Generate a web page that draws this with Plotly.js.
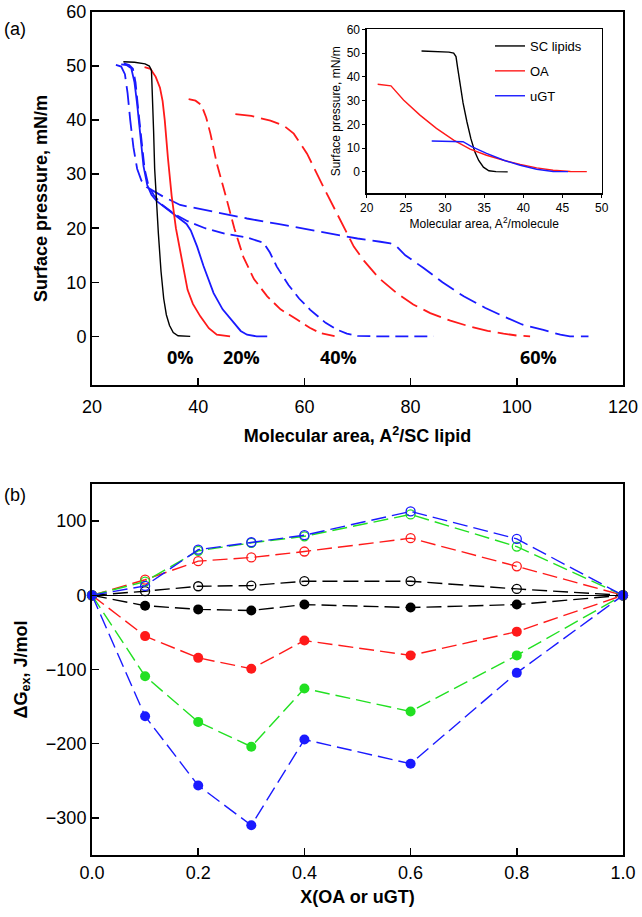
<!DOCTYPE html>
<html>
<head>
<meta charset="utf-8">
<script src="https://cdn.plot.ly/plotly-3.0.1.min.js"></script>
<style>html,body{margin:0;padding:0;background:#fff;}#chart{width:642px;height:917px;}</style>
</head>
<body>
<div id="chart"></div>
<script>
// ---------- Panel (a): isotherms of mixtures ----------
const sc0_x = [25.9, 28, 30, 30.8, 31.2, 31.4, 31.6, 31.8, 32.1, 32.5, 33.0, 33.5, 34.0, 34.6, 35.3, 36.2, 38.5];
const sc0_y = [50.8, 50.7, 50.4, 50.0, 49.2, 45, 38, 31, 25, 19, 12, 7, 4, 2, 0.7, 0.1, 0];

const oa20_x = [29.9, 31, 32, 32.8, 33.3, 33.7, 34.3, 35.0, 35.8, 36.6, 37.3, 38.0, 39.0, 40.4, 42.0, 43.5, 46.0];
const oa20_y = [49.8, 49.5, 48, 46, 43.5, 40, 33, 26, 20, 16, 12, 8.6, 6, 3.7, 1.5, 0.3, 0];

const ugt20_x = [25.5, 26.5, 27.4, 28.0, 28.5, 29.1, 29.7, 30.4, 31.2, 32.2, 34.0, 36.0, 37.8, 38.6, 39.8, 41.0, 42.9, 44.6, 46.7, 48.0, 49.2, 51.0, 53.0];
const ugt20_y = [50.3, 50.2, 49.6, 47, 43, 37, 31.5, 28, 26.2, 25, 23.6, 22.1, 20.8, 19.6, 16.6, 13, 8.0, 5, 2.5, 1.0, 0.3, 0, 0];

const oa40_x = [38.2, 39.5, 40.6, 41.5, 42.3, 43.5, 45.4, 46.8, 48.5, 50.5, 53.0, 55.5, 58.6, 61.0, 63.0, 66.0];
const oa40_y = [43.9, 43.6, 42.8, 40.5, 37.5, 32, 25.2, 20, 14.7, 10.6, 7.4, 5, 3.1, 1.6, 0.6, 0];

const ugt40_x = [26.0, 27.0, 27.7, 28.2, 28.7, 29.3, 29.9, 30.6, 31.6, 33.0, 35.4, 38.0, 41.3, 45.0, 49.2, 52.3, 53.5, 54.8, 57.0, 59.0, 61.1, 64.0, 66.0, 68.0, 70.0, 74.0, 84.3];
const ugt40_y = [50.5, 50.2, 49.5, 47, 42, 36, 31, 28, 26.2, 24.5, 22.7, 21.3, 20, 19, 18.3, 17.3, 15.5, 12.9, 9.5, 7, 4.9, 2.5, 1.3, 0.5, 0.1, 0, 0];

const oa60_x = [47.0, 50.0, 53.6, 56.1, 58.0, 60.5, 63.6, 66.8, 69.3, 71.2, 74.0, 77.4, 80.5, 83.7, 87.5, 91.2, 94.5, 97.5, 100.0, 102.5];
const oa60_y = [41.1, 40.8, 39.9, 39.0, 37.5, 33.8, 27.6, 21.5, 16.6, 14.0, 10.8, 8.0, 5.9, 4.3, 2.9, 1.8, 1.0, 0.5, 0.15, 0];

const ugt60_x = [24.5, 25.5, 26.2, 26.7, 27.2, 27.8, 28.5, 29.3, 30.3, 31.8, 33.5, 36.6, 42.0, 49.2, 55.0, 60.0, 65.0, 70.0, 74.3, 76.2, 77.4, 79.0, 82.5, 86.0, 90.0, 94.0, 97.5, 101.0, 105.0, 108.2, 110.0, 113.5];
const ugt60_y = [50.2, 49.9, 48.5, 45, 40, 35, 31, 28.8, 27.6, 26.7, 25.8, 24.3, 23.2, 21.8, 20.8, 19.9, 19.0, 18.1, 17.5, 17.2, 16.6, 15.0, 12.6, 10.0, 7.4, 5.3, 3.7, 2.2, 1.2, 0.3, 0, 0];

const pctLabels = ["0%", "20%", "40%", "60%"];
const pctX = [36.6, 48.2, 66.5, 104];
const pctY = -3.8;

// ---------- Inset: pure components ----------
const insSC_x = [27.0, 29.0, 30.5, 31.1, 31.4, 31.6, 31.9, 32.3, 32.8, 33.3, 33.8, 34.3, 34.9, 35.6, 36.5, 38.0];
const insSC_y = [50.9, 50.7, 50.4, 50.0, 48.5, 44, 37, 29, 21, 14, 8.5, 4.8, 2.0, 0.5, 0.1, 0];
const insOA_x = [21.4, 23.1, 24.7, 26.8, 28.9, 31.1, 33.2, 35.3, 37.5, 39.6, 41.7, 43.8, 46.0, 48.1];
const insOA_y = [36.9, 36.2, 30.3, 23.9, 18.3, 13.4, 9.6, 7.0, 4.9, 3.1, 1.7, 0.7, 0.2, 0.1];
const insUGT_x = [28.3, 30.5, 32.3, 33.4, 35.3, 37.5, 39.6, 41.7, 43.8, 45.7];
const insUGT_y = [13.0, 12.9, 12.7, 10.6, 7.8, 4.9, 2.8, 1.1, 0.2, 0.1];
const insNames = ["SC lipids", "OA", "uGT"];

// ---------- Panel (b): excess Gibbs energy ----------
const xb = [0, 0.1, 0.2, 0.3, 0.4, 0.6, 0.8, 1.0];
const openBlack = [0, 5.5, 12.2, 13.1, 19, 19, 8.6, 0];
const openRed   = [0, 21, 46, 51, 59, 77, 39, 0];
const openGreen = [0, 18.5, 60, 70.6, 79.5, 109, 65.6, 0];
const openBlue  = [0, 12.7, 61.5, 71.5, 81, 113, 76, 0];
const fillBlack = [0, -14, -19, -20.5, -12.5, -16.5, -12.5, 0];
const fillRed   = [0, -55, -84.3, -99, -61, -81, -49, 0];
const fillGreen = [0, -109, -170.6, -204, -125.6, -156.6, -81, 0];
const fillBlue  = [0, -163, -256.4, -310, -194.4, -227, -104.5, 0];

const BLK = "#000000", RED = "#ff1a1a", BLU = "#1a1aff", GRN = "#22e022";
const FONT = "Liberation Sans, Arial, sans-serif";

function isoTrace(x, y, color, dash, w) {
  return {x: x, y: y, xaxis: "x", yaxis: "y", type: "scatter", mode: "lines",
          line: {color: color, width: w || 1.8, dash: dash}, showlegend: false, hoverinfo: "skip"};
}
const D40 = "13px,6px", D60 = "19px,7px";
const traces = [
  isoTrace(ugt60_x, ugt60_y, BLU, D60),
  isoTrace(ugt40_x, ugt40_y, BLU, D40),
  isoTrace(ugt20_x, ugt20_y, BLU, "solid"),
  isoTrace(oa60_x, oa60_y, RED, D60),
  isoTrace(oa40_x, oa40_y, RED, D40),
  isoTrace(oa20_x, oa20_y, RED, "solid"),
  isoTrace(sc0_x, sc0_y, BLK, "solid", 1.4),
];
const insCols = [BLK, RED, BLU];
[[insSC_x, insSC_y], [insOA_x, insOA_y], [insUGT_x, insUGT_y]].forEach(function (d, i) {
  traces.push({x: d[0], y: d[1], xaxis: "x2", yaxis: "y2", type: "scatter", mode: "lines",
               name: insNames[i], legendgroup: "g" + i,
               line: {color: insCols[i], width: 1.4}, showlegend: true, hoverinfo: "skip"});
});

function gTrace(y, color, filled) {
  return {x: xb, y: y, xaxis: "x3", yaxis: "y3", type: "scatter", mode: "lines+markers",
          cliponaxis: false, showlegend: false, hoverinfo: "skip",
          line: {color: color, width: 1.4, dash: "15px,6px"},
          marker: filled ? {color: color, size: 10, symbol: "circle"}
                         : {color: color, size: 9, symbol: "circle-open", line: {color: color, width: 1.3}}};
}
traces.push(gTrace(openBlack, BLK, false), gTrace(openRed, RED, false), gTrace(openGreen, GRN, false), gTrace(openBlue, BLU, false));
traces.push(gTrace(fillBlack, BLK, true), gTrace(fillRed, RED, true), gTrace(fillGreen, GRN, true), gTrace(fillBlue, BLU, true));

const W = 642, H = 917;
const mainAx = {showline: true, mirror: true, linecolor: "#000", linewidth: 2, showgrid: false, zeroline: false,
                ticks: "inside", ticklen: 7, tickwidth: 1.5, tickcolor: "#000",
                tickfont: {family: FONT, size: 18, color: "#000"}};
const insAx = {showline: true, mirror: true, linecolor: "#000", linewidth: 1.3, showgrid: false, zeroline: false,
               ticks: "outside", ticklen: 3, tickwidth: 1, tickcolor: "#000",
               tickfont: {family: FONT, size: 12, color: "#000"}};

const annotations = pctLabels.map(function (t, i) {
  return {x: pctX[i], y: pctY, xref: "x", yref: "y", text: "<b>" + t + "</b>", showarrow: false,
          font: {family: "Open Sans, sans-serif", size: 18, color: "#000"}};
});
annotations.push({x: 2 / W, y: 1 - 17 / H, xref: "paper", yref: "paper", xanchor: "left", text: "(a)", showarrow: false,
                  font: {family: FONT, size: 18, color: "#000"}});
annotations.push({x: 2 / W, y: 1 - 495 / H, xref: "paper", yref: "paper", xanchor: "left", text: "(b)", showarrow: false,
                  font: {family: FONT, size: 18, color: "#000"}});

const layout = {
  width: W, height: H, margin: {l: 0, r: 0, t: 0, b: 0},
  paper_bgcolor: "#fff", plot_bgcolor: "rgba(0,0,0,0)",
  font: {family: FONT, color: "#000"},
  xaxis: Object.assign({}, mainAx, {domain: [92 / W, 623 / W], anchor: "y", range: [20, 120], dtick: 20, tick0: 20,
    ticklabelstandoff: 4,
    title: {text: "<b>Molecular area, A<sup>2</sup>/SC lipid</b>", font: {family: FONT, size: 18}, standoff: 14}}),
  yaxis: Object.assign({}, mainAx, {domain: [1 - 385 / H, 1 - 12 / H], anchor: "x", range: [-9, 60], dtick: 10, tick0: 0,
    title: {text: "<b>Surface pressure, mN/m</b>", font: {family: FONT, size: 18}, standoff: 14}}),
  xaxis2: Object.assign({}, insAx, {domain: [366.7 / W, 601.7 / W], anchor: "y2", range: [20, 50], dtick: 5, tick0: 20,
    title: {text: "Molecular area, A<sup>2</sup>/molecule", font: {family: FONT, size: 12}, standoff: 1}}),
  yaxis2: Object.assign({}, insAx, {domain: [1 - 193.3 / H, 1 - 29.3 / H], anchor: "x2", range: [-9, 60], dtick: 10, tick0: 0,
    title: {text: "Surface pressure, mN/m", font: {family: FONT, size: 12}, standoff: 3}}),
  xaxis3: Object.assign({}, mainAx, {domain: [92 / W, 623 / W], anchor: "y3", range: [0, 1], dtick: 0.2, tick0: 0, tickformat: ".1f",
    title: {text: "<b>X(OA or uGT)</b>", font: {family: FONT, size: 18}, standoff: 9}}),
  yaxis3: Object.assign({}, mainAx, {domain: [1 - 855 / H, 1 - 484 / H], anchor: "x3", range: [-350, 150], dtick: 100, tick0: 0,
    zeroline: true, zerolinecolor: "#000", zerolinewidth: 1.5,
    title: {text: "<b>ΔG<sub>ex</sub>, J/mol</b>", font: {family: FONT, size: 18}, standoff: 14}}),
  legend: {x: 490 / W, y: 1 - 31 / H, xanchor: "left", yanchor: "top", bgcolor: "rgba(0,0,0,0)",
           font: {family: FONT, size: 13, color: "#000"}, itemwidth: 30, tracegroupgap: 5},
  annotations: annotations
};

Plotly.newPlot("chart", traces, layout, {staticPlot: true, displayModeBar: false});
</script>
</body>
</html>
